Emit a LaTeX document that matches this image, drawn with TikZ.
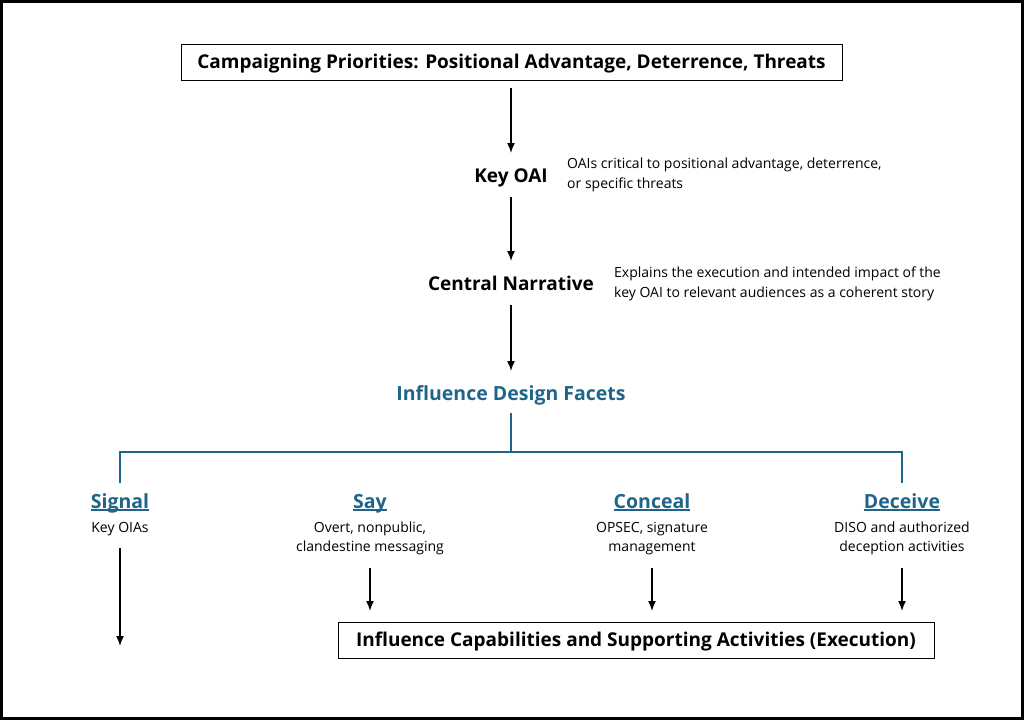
\documentclass[tikz,border=0pt]{standalone}
\usepackage{fontspec}
\setmainfont{Open Sans}
\usetikzlibrary{arrows.meta}
\definecolor{facet}{HTML}{1F6589}
\newcommand\fixul[1]{\setbox0\hbox{#1}\rlap{\rule[-2.5pt]{\wd0}{1.2pt}}\box0}
\begin{document}
\begin{tikzpicture}[x=1pt,y=-1pt,
  box/.style={draw=black,line width=1pt,minimum height=36pt,inner xsep=0pt,inner ysep=0pt,text height=13.5pt,text depth=0pt,font=\bfseries\fontsize{19}{22}\selectfont},
  head/.style={font=\bfseries\fontsize{19}{22}\selectfont,inner sep=0pt,anchor=base},
  desc/.style={font=\fontsize{14}{19.5}\selectfont,align=left,inner sep=0pt},
  fdesc/.style={font=\fontsize{14}{19.5}\selectfont,align=center,inner sep=0pt},
  facethead/.style={font=\bfseries\fontsize{19.5}{22}\selectfont,text=facet,inner sep=0pt,anchor=base},
  arr/.style={-{Latex[length=10pt,width=8pt]},line width=1.5pt},
  tree/.style={draw=facet,line width=2pt}]
\useasboundingbox (0,0) rectangle (1024,720);
\draw[line width=2.5pt] (1.5,1.5) rectangle (1022.5,718.5);
\node[box,minimum width=661pt] (top) at (511.5,62) {Campaigning Priorities: Positional Advantage, Deterrence, Threats};
\node[head] (oai) at (511,182) {Key OAI};
\node[desc,anchor=west] (oaid) at (567,175) {OAIs critical to positional advantage, deterrence,\\or specific threats};
\node[head] (cn) at (511,290.5) {Central Narrative};
\node[desc,anchor=west] (cnd) at (614,284) {Explains the execution and intended impact of the\\key OAI to relevant audiences as a coherent story};
\node[head,text=facet,font=\bfseries\fontsize{19.5}{22}\selectfont] (idf) at (511,400) {Influence Design Facets};
\node[facethead] (sig) at (120,508) {\fixul{Signal}};
\node[facethead] (say) at (370,508) {\fixul{Say}};
\node[facethead] (con) at (652,508) {\fixul{Conceal}};
\node[facethead] (dec) at (902,508) {\fixul{Deceive}};
\node[fdesc] (sigd) at (120,529) {Key OIAs};
\node[fdesc] (sayd) at (370,538.5) {Overt, nonpublic,\\clandestine messaging};
\node[fdesc] (cond) at (652,538.5) {OPSEC, signature\\management};
\node[fdesc] (decd) at (902,538.5) {DISO and authorized\\deception activities};
\node[box,minimum width=596pt] (exe) at (636,640) {Influence Capabilities and Supporting Activities (Execution)};
\coordinate (sigend) at (120,646);
\draw[arr] (511,88) -- (oai.north |- 0,153);
\draw[arr] (511,197) -- (511,261);
\draw[arr] (511,305) -- (511,371);
\draw[tree] (idf.south |- 0,413) -- (511,452);
\draw[tree] (120,483) -- (120,452) -- (902,452) -- (902,483);
\draw[arr] (120,548) -- (sigend);
\draw[arr] (370,568) -- (370,611);
\draw[arr] (652,568) -- (652,611);
\draw[arr] (902,568) -- (902,611);
\end{tikzpicture}
\end{document}
